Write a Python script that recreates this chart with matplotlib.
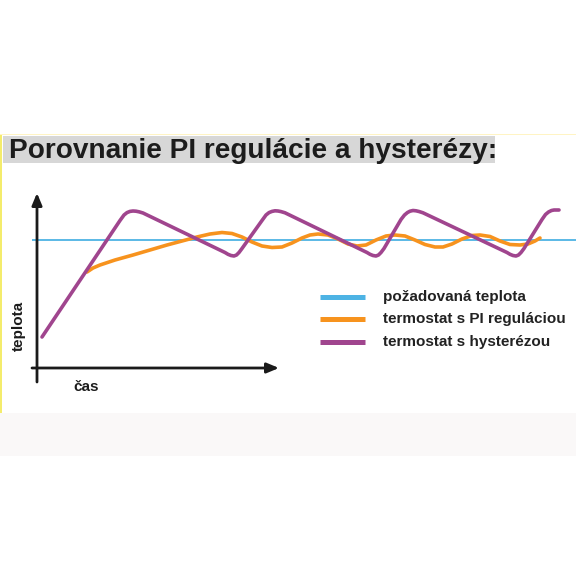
import matplotlib
matplotlib.use("Agg")
import matplotlib.pyplot as plt
from matplotlib.patches import Rectangle

plt.rcParams['font.family'] = ['Liberation Sans', 'DejaVu Sans']

# --- data (time, temperature), arbitrary units ---
SETPOINT = 12.8
setpoint_t = [-0.5, 54.0]

pi_t = [5.0, 5.6, 6.3, 7.8, 9.6, 11.3, 13.0, 14.5, 16.0, 17.3, 18.5, 19.5,
        20.5, 21.5, 22.5, 23.5, 24.5, 25.5, 26.5, 27.3, 28.1, 29.1, 30.1,
        31.1, 32.0, 32.9, 33.9, 34.9, 35.8, 36.8, 37.8, 38.8, 39.8, 40.6,
        41.5, 42.5, 43.5, 44.3, 45.3, 46.3, 47.3, 48.3, 49.1, 49.8, 50.3]
pi_temp = [9.6, 10.0, 10.3, 10.8, 11.3, 11.8, 12.3, 12.7, 13.1, 13.4, 13.55,
           13.45, 13.1, 12.6, 12.2, 12.05, 12.1, 12.5, 13.0, 13.3, 13.4, 13.3,
           12.9, 12.4, 12.2, 12.3, 12.8, 13.2, 13.3, 13.2, 12.8, 12.35, 12.1,
           12.1, 12.4, 12.9, 13.25, 13.3, 13.15, 12.7, 12.35, 12.3, 12.4,
           12.7, 13.0]

hyst_t = [0.5,
          8.3, 8.7, 9.0, 9.3, 9.6, 9.9, 10.2, 10.6,
          18.8, 19.1, 19.4, 19.7, 19.95, 20.2, 20.5,
          22.5, 22.9, 23.2, 23.5, 23.8, 24.1, 24.4, 24.8,
          33.0, 33.3, 33.6, 33.9, 34.15, 34.4, 34.7,
          36.4, 36.75, 37.05, 37.3, 37.6, 37.9, 38.2, 38.6,
          47.0, 47.3, 47.6, 47.9, 48.15, 48.4, 48.7,
          50.5, 50.85, 51.15, 51.45, 51.7, 52.2]
hyst_temp = [3.1,
             14.75, 15.3, 15.54, 15.66, 15.7, 15.68, 15.62, 15.5,
             11.55, 11.37, 11.25, 11.2, 11.3, 11.55, 11.95,
             14.75, 15.3, 15.54, 15.66, 15.72, 15.7, 15.64, 15.52,
             11.55, 11.37, 11.25, 11.2, 11.3, 11.55, 11.95,
             14.85, 15.3, 15.55, 15.68, 15.75, 15.72, 15.65, 15.52,
             11.55, 11.37, 11.25, 11.2, 11.3, 11.55, 11.95,
             14.85, 15.35, 15.6, 15.75, 15.8, 15.8]

legend_labels = ["požadovaná teplota", "termostat s PI reguláciou",
                 "termostat s hysterézou"]
title = "Porovnanie PI regulácie a hysterézy:"

C_BLUE = "#4db3e4"
C_ORANGE = "#f7931e"
C_PURPLE = "#a0458e"
C_AXIS = "#1a1a1a"

fig = plt.figure(figsize=(5.76, 5.76), dpi=100)
fig.patch.set_facecolor("white")

# page decoration (pixel -> figure coords)
def px(x, y):
    return x / 576, 1 - y / 576

fig.patches.append(Rectangle(px(0, 456), 1, 43 / 576, transform=fig.transFigure,
                             facecolor="#faf8f8", edgecolor="none", zorder=0))
fig.patches.append(Rectangle(px(0, 135), 1, 1.2 / 576, transform=fig.transFigure,
                             facecolor="#fff4c4", edgecolor="none", zorder=0))
fig.patches.append(Rectangle(px(0, 413), 2.2 / 576, 278 / 576, transform=fig.transFigure,
                             facecolor="#f4ec6c", edgecolor="none", zorder=0))
fig.patches.append(Rectangle(px(3, 163), 492 / 576, 27 / 576, transform=fig.transFigure,
                             facecolor="#d7d7d7", edgecolor="none", zorder=0))
fig.text(9 / 576, 1 - 158 / 576, title, fontsize=20.2, fontweight="bold",
         color="#1c1c1c", va="baseline", ha="left")

ax = fig.add_axes([0, 0, 1, 1])
ax.set_xlim(-3.7, 53.9)
ax.set_ylim(-20.8, 36.8)
ax.axis("off")

# axes arrows
arrow = dict(arrowstyle="-|>,head_length=0.6,head_width=0.25", lw=2.0,
             color=C_AXIS, shrinkA=0, shrinkB=0, mutation_scale=12)
ax.annotate("", xy=(0, 17.5), xytext=(0, -1.4), arrowprops=arrow)
ax.annotate("", xy=(24.2, 0), xytext=(-0.5, 0), arrowprops=arrow)

ax.plot(setpoint_t, [SETPOINT, SETPOINT], color=C_BLUE, lw=1.3, zorder=2,
        solid_capstyle="butt")
ax.plot(pi_t, pi_temp, color=C_ORANGE, lw=2.6, zorder=3,
        solid_joinstyle="round", solid_capstyle="round")
ax.plot(hyst_t, hyst_temp, color=C_PURPLE, lw=2.6, zorder=4,
        solid_joinstyle="round", solid_capstyle="round")

ax.text(-1.8, 4.2, "teplota", rotation=90, fontsize=11, fontweight="bold",
        color="#1c1c1c", ha="center", va="center")
ax.text(3.6, -1.9, "čas", fontsize=11, fontweight="bold", color="#1c1c1c",
        ha="left", va="center")

# legend drawn by hand
legend_colors = [C_BLUE, C_ORANGE, C_PURPLE]
legend_y = [7.1, 4.9, 2.6]
for lab, col, ly in zip(legend_labels, legend_colors, legend_y):
    ax.plot([28.3, 32.8], [ly, ly], color=col, lw=3.6, solid_capstyle="butt")
    ax.text(34.6, ly, lab, fontsize=11, fontweight="bold", color="#222222",
            ha="left", va="center")

fig.savefig("out.png", dpi=100, facecolor="white")
